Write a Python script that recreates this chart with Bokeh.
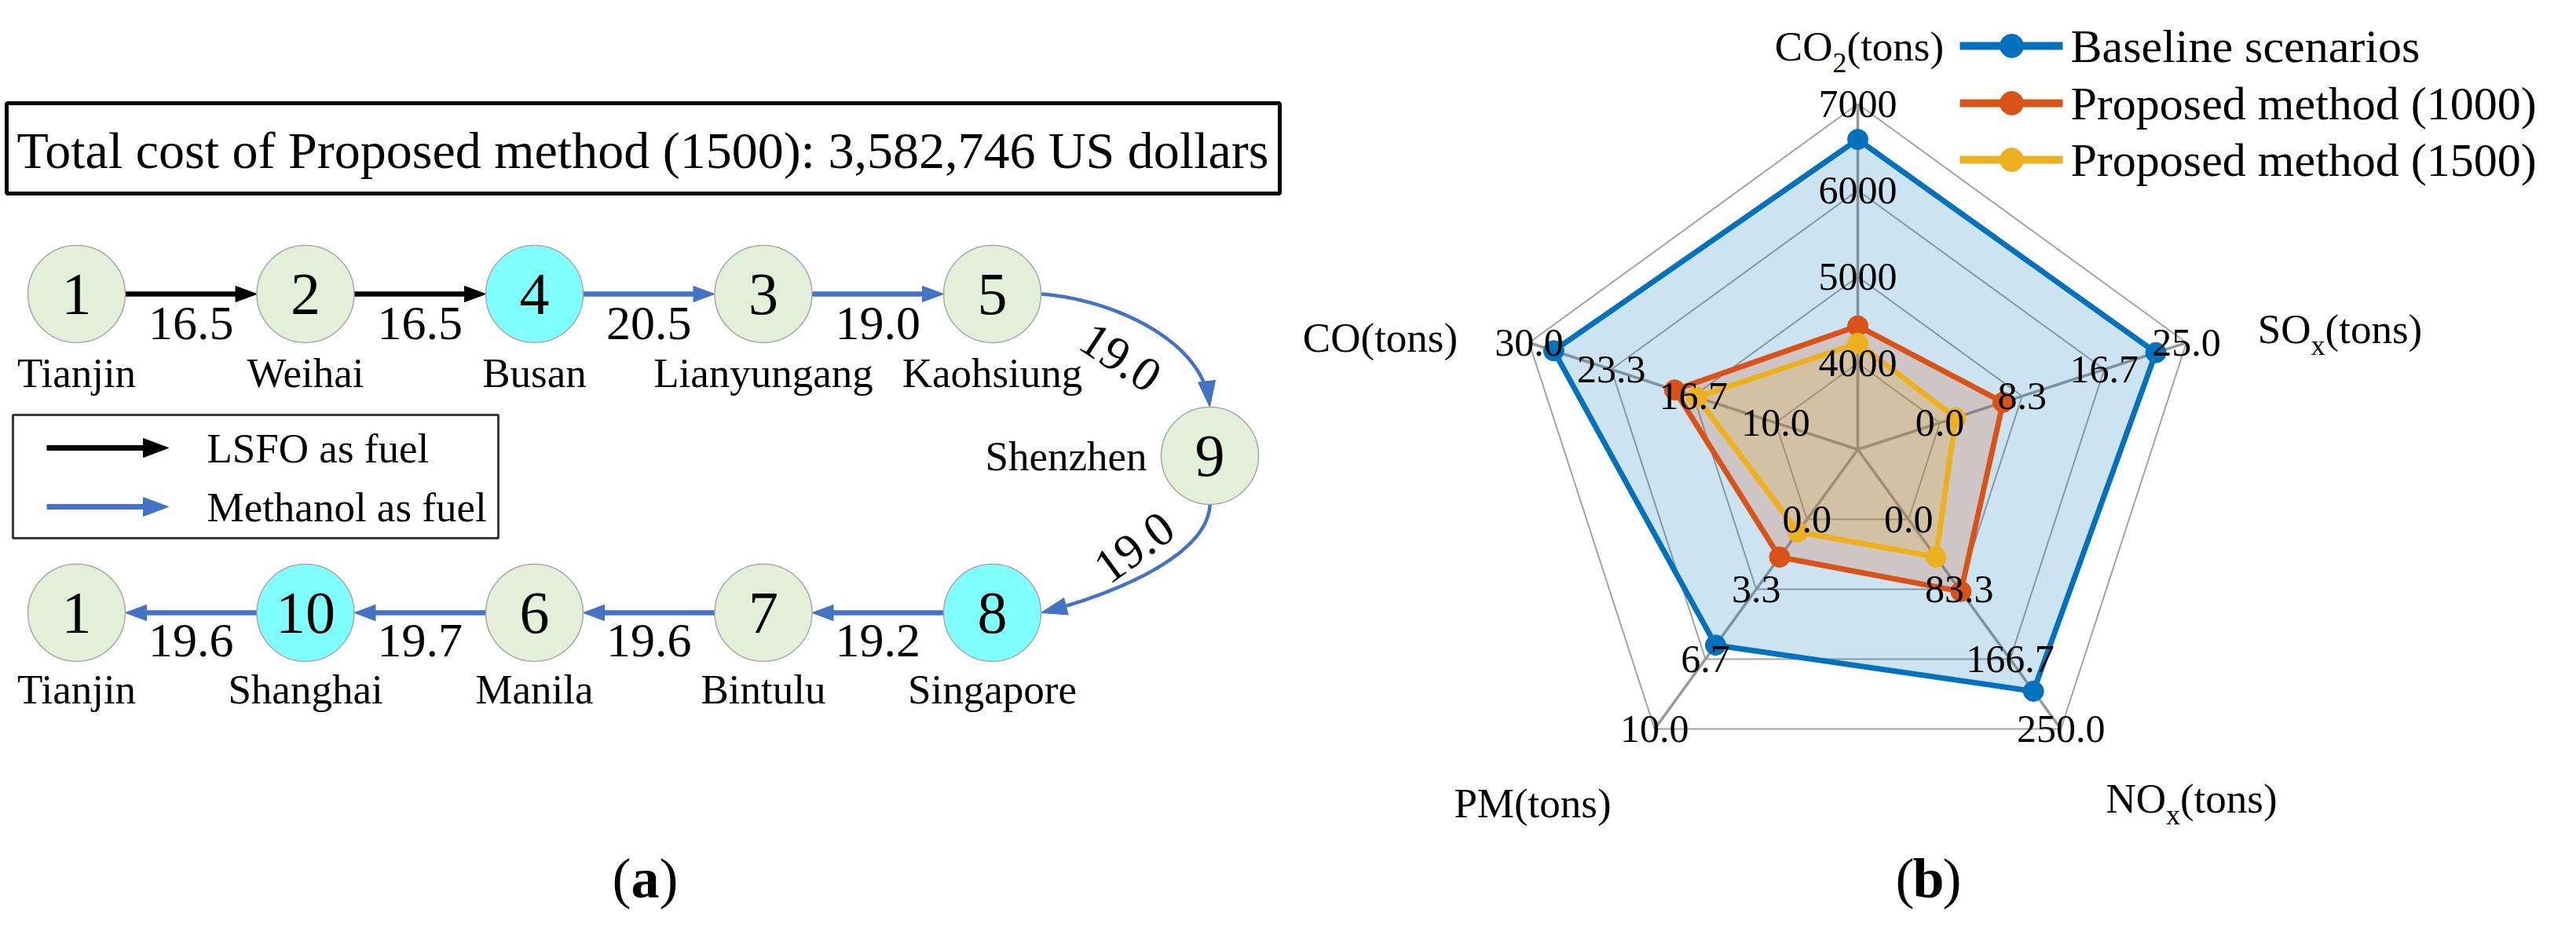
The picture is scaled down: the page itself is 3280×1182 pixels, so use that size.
import numpy as np
from bokeh.plotting import figure
from bokeh.models import Range1d
from bokeh.core.properties import value
from bokeh.embed import file_html
from bokeh.resources import INLINE

# ---------------- data ----------------
title_text = "Total cost of Proposed method (1500): 3,582,746 US dollars"
row1_nodes = ["1", "2", "4", "3", "5"]
row1_ports = ["Tianjin", "Weihai", "Busan", "Lianyungang", "Kaohsiung"]
row1_legs = [16.5, 16.5, 20.5, 19.0]
row1_fuel = ["LSFO", "LSFO", "Methanol", "Methanol"]
turn_node = "9"
turn_port = "Shenzhen"
turn_legs = [19.0, 19.0]
row2_nodes = ["1", "10", "6", "7", "8"]
row2_ports = ["Tianjin", "Shanghai", "Manila", "Bintulu", "Singapore"]
row2_legs = [19.6, 19.7, 19.6, 19.2]
bunker_nodes = ["4", "10", "8"]
fuel_names = ["LSFO as fuel", "Methanol as fuel"]

metrics_main = ["CO", "SO", "NO", "PM", "CO"]
metrics_sub = ["2", "x", "x", "", ""]
axis_min = [4000, 0.0, 0.0, 0.0, 10.0]
axis_max = [7000, 25.0, 250.0, 10.0, 30.0]
tick_labels = [["4000", "5000", "6000", "7000"],
               ["0.0", "8.3", "16.7", "25.0"],
               ["0.0", "83.3", "166.7", "250.0"],
               ["0.0", "3.3", "6.7", "10.0"],
               ["10.0", "16.7", "23.3", "30.0"]]
series_names = ["Baseline scenarios", "Proposed method (1000)", "Proposed method (1500)"]
baseline = [6590, 21.9, 205, 6.0, 28.0]
proposed_1000 = [4430, 6.4, 86, 1.8, 18.2]
proposed_1500 = [4230, 1.6, 45, 0.6, 16.4]
series_values = [baseline, proposed_1000, proposed_1500]

# ---------------- styles ----------------
FONT = value("Liberation Serif")
BLUE_ARROW = "#4472C4"
GREEN = "#E2F0D9"
CYAN = "#80FFFF"
SER_COLORS = ["#0072BD", "#D95319", "#EDB120"]
fuel_color = {"LSFO": "black", "Methanol": BLUE_ARROW}

W, H = 3264, 1166
p = figure(width=W, height=H, x_range=Range1d(8, 8 + W), y_range=Range1d(8 + H, 8),
           output_backend="svg", toolbar_location=None, min_border=0)
p.axis.visible = False
p.xgrid.visible = False
p.ygrid.visible = False
p.outline_line_color = None
p.background_fill_color = "white"
p.border_fill_color = "white"


def txt(x, y, s, size, align="center", baseline="middle", angle=0.0, style="normal", color="black"):
    p.text(x=[x], y=[y], text=[s], text_font=FONT, text_font_size=f"{size}px",
           text_align=align, text_baseline=baseline, angle=angle,
           text_font_style=style, text_color=color)


def head(tip, direction, color, length=27, width=20):
    d = np.array(direction, float)
    d /= np.hypot(*d)
    n = np.array([-d[1], d[0]])
    t = np.array(tip, float)
    b = t - d * length
    pts = [t, b + n * width / 2, b - n * width / 2]
    p.patch([q[0] for q in pts], [q[1] for q in pts], fill_color=color, line_color=color, line_width=1)
    return b


def arrow(x0, y0, x1, y1, color, lw=6.5, length=27, width=20):
    b = head((x1, y1), (x1 - x0, y1 - y0), color, length, width)
    p.line([x0, b[0] + (x1 - x0) / abs(x1 - x0 or 1) * 2], [y0, b[1]], line_color=color, line_width=lw)


# ---------------- panel (a) ----------------
X0, DX = 105, 291.5
ROW1_Y, TURN_Y, ROW2_Y = 382, 588, 788
NR = 62
TURN_X = 1548
xs = [X0 + i * DX for i in range(len(row1_nodes))]

# title box
p.quad(left=[16], right=[1637], top=[139], bottom=[254], fill_color=None,
       line_color="black", line_width=5)
txt(826, 199, title_text, 66)

# straight arrows row 1
for i, (leg, fuel) in enumerate(zip(row1_legs, row1_fuel)):
    arrow(xs[i] + NR, ROW1_Y, xs[i + 1] - NR, ROW1_Y, fuel_color[fuel])
    txt((xs[i] + xs[i + 1]) / 2, ROW1_Y + 37, f"{leg:.1f}", 62)

# straight arrows row 2 (pointing left)
for i, leg in enumerate(row2_legs):
    arrow(xs[i + 1] - NR, ROW2_Y, xs[i] + NR, ROW2_Y, BLUE_ARROW)
    txt((xs[i] + xs[i + 1]) / 2, ROW2_Y + 35, f"{leg:.1f}", 62)


# curved arrows
def cubic(P0, C0, C1, P3, n=80):
    t = np.linspace(0, 1, n)[:, None]
    P0, C0, C1, P3 = map(np.array, (P0, C0, C1, P3))
    return (1 - t) ** 3 * P0 + 3 * (1 - t) ** 2 * t * C0 + 3 * (1 - t) * t ** 2 * C1 + t ** 3 * P3


curves = [cubic((xs[4] + NR, ROW1_Y), (1420, ROW1_Y + 6), (TURN_X - 6, 440), (TURN_X, TURN_Y - NR)),
          cubic((TURN_X, TURN_Y + NR), (TURN_X - 2, 715), (1425, 765), (xs[4] + NR, ROW2_Y))]
for c in curves:
    tip = c[-1]
    dirv = c[-1] - c[-4]
    b = head(tip, dirv, BLUE_ARROW, length=33, width=22)
    keep = np.hypot(c[:, 0] - tip[0], c[:, 1] - tip[1]) > 30
    p.line(c[keep, 0], c[keep, 1], line_color=BLUE_ARROW, line_width=4.5)
txt(1434, 463, f"{turn_legs[0]:.1f}", 62, angle=-0.58)
txt(1452, 705, f"{turn_legs[1]:.1f}", 62, angle=0.63)


# nodes
def node(x, y, label):
    p.scatter([x], [y], size=2 * NR, marker="circle",
              fill_color=CYAN if label in bunker_nodes else GREEN,
              line_color="#a8a8a8", line_width=1.5)
    txt(x, y, label, 76)


for x, n, port in zip(xs, row1_nodes, row1_ports):
    node(x, ROW1_Y, n)
    txt(x, ROW1_Y + 100, port, 53)
for x, n, port in zip(xs, row2_nodes, row2_ports):
    node(x, ROW2_Y, n)
    txt(x, ROW2_Y + 97, port, 53)
node(TURN_X, TURN_Y, turn_node)
txt(TURN_X - NR - 18, TURN_Y, turn_port, 53, align="right")

# legend (a)
p.quad(left=[24], right=[642], top=[536], bottom=[693], fill_color="white",
       line_color="#3a3a3a", line_width=3)
for k, (name, col) in enumerate(zip(fuel_names, ["black", BLUE_ARROW])):
    yy = 578 + k * 75
    arrow(67, yy, 222, yy, col, lw=7, length=32, width=24)
    txt(271, yy, name, 53, align="left")

txt(811, 1126, "(", 72, align="right")
txt(829, 1126, "a", 72, style="bold")
txt(847, 1126, ")", 72, align="left")

# ---------------- panel (b) radar ----------------
CX, CY, R = 2373, 580, 440
ang = np.deg2rad([90, 18, -54, -126, 162])


def polar(r):
    return CX + r * np.cos(ang), CY - r * np.sin(ang)


def to_xy(vals):
    fr = np.array([(v - lo) / (hi - lo) for v, lo, hi in zip(vals, axis_min, axis_max)])
    return polar(R * (1 + 3 * fr) / 4)


# web rings
for k in range(1, 5):
    rx, ry = polar(np.full(5, R * k / 4))
    p.line(list(rx) + [rx[0]], list(ry) + [ry[0]], line_color="#a3a3a3", line_width=2)
# spokes
ox, oy = polar(np.full(5, R))
p.segment(x0=[CX] * 5, y0=[CY] * 5, x1=ox, y1=oy, line_color="#9a9a9a", line_width=3.5)

# series
for vals, col in zip(series_values, SER_COLORS):
    sx, sy = to_xy(vals)
    p.patch(list(sx), list(sy), fill_color=col, fill_alpha=0.2, line_color=None)
for vals, col in zip(series_values, SER_COLORS):
    sx, sy = to_xy(vals)
    p.line(list(sx) + [sx[0]], list(sy) + [sy[0]], line_color=col, line_width=7)
    p.scatter(sx, sy, size=26, marker="circle", fill_color=col, line_color=col)

# tick labels at ring vertices
for j in range(5):
    for k in range(4):
        r = R * (k + 1) / 4
        txt(CX + r * np.cos(ang[j]), CY - r * np.sin(ang[j]), tick_labels[j][k], 50)

# axis labels with subscripts
TW = {"C": .667, "O": .722, "S": .556, "N": .722, "P": .556, "M": .889, "(": .333, ")": .333,
      "t": .278, "o": .5, "n": .5, "s": .389, "2": .5, "x": .5}
label_pos = [(2375, 66), (2987, 426), (2798, 1024), (1959, 1030), (1765, 437)]
FS, FSUB = 53, 36
for main, sub, (lx, by) in zip(metrics_main, metrics_sub, label_pos):
    rest = "(tons)"
    wm = sum(TW[c] for c in main) * FS
    ws = sum(TW[c] for c in sub) * FSUB
    wr = sum(TW[c] for c in rest) * FS
    left = lx - (wm + ws + wr) / 2
    txt(left, by, main, FS, align="left", baseline="alphabetic")
    if sub:
        txt(left + wm, by + 21, sub, FSUB, align="left", baseline="alphabetic")
    txt(left + wm + ws, by, rest, FS, align="left", baseline="alphabetic")

# legend (b)
for name, col, yy in zip(series_names, SER_COLORS, [66, 139, 211]):
    p.line([2503, 2634], [yy, yy], line_color=col, line_width=10)
    p.scatter([2569], [yy], size=30, marker="circle", fill_color=col, line_color=col)
    txt(2644, yy, name, 60, align="left")

txt(2445, 1126, "(", 72, align="right")
txt(2463, 1126, "b", 72, style="bold")
txt(2481, 1126, ")", 72, align="left")

open("out.html", "w").write(file_html(p, INLINE))
